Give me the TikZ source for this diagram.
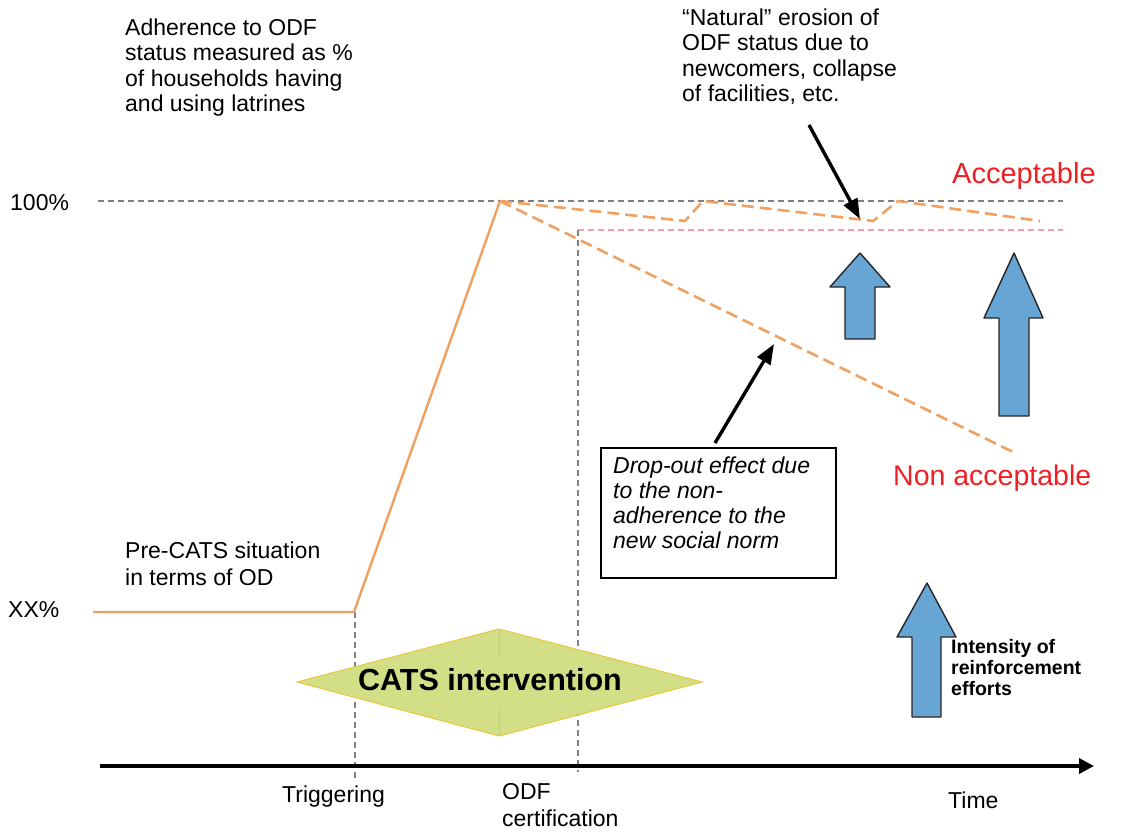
\documentclass[tikz,border=0pt]{standalone}
\usepackage{fontspec}
\setmainfont{Liberation Sans}
\usetikzlibrary{arrows.meta}
\definecolor{orng}{HTML}{F0A060}
\definecolor{gryd}{HTML}{808080}
\definecolor{redd}{HTML}{F4A0A0}
\definecolor{redt}{HTML}{EE2024}
\definecolor{blu}{HTML}{67A5D5}
\definecolor{dfill}{HTML}{D3DF86}
\definecolor{dline}{HTML}{EBC53A}
\tikzset{
  txt/.style={inner sep=0pt, align=left, font=\fontsize{23}{25.5}\selectfont},
  graydash/.style={gryd, line width=2.8pt, dash pattern=on 6pt off 4pt},
  orngdash/.style={orng, line width=2.6pt, dash pattern=on 12pt off 6pt},
  reddash/.style={redd, line width=2.6pt, dash pattern=on 6pt off 4pt},
  bluearrow/.style={fill=blu, draw=black!85, line width=1.4pt, line join=round},
  pointer/.style={black, line width=3.4pt, -{Triangle[length=20pt,width=15pt]}},
}
\begin{document}
\begin{tikzpicture}[x=1pt,y=-1pt]
\useasboundingbox (0,0) rectangle (1126,831);
% reference lines
\coordinate (g0) at (98,201);
\coordinate (g1) at (1063,201);
\draw[graydash] (g0) -- (g1);
\coordinate (r0) at (578,230);
\coordinate (r1) at (1063,230);
\draw[reddash] (r0) -- (r1);
\coordinate (v1t) at (355,612);
\coordinate (v1b) at (355,778);
\coordinate (v2t) at (578,230);
\coordinate (v2b) at (578,772);
\draw[graydash] (v1t) -- (v1b);
\draw[graydash] (v2t) -- (v2b);
% diamond
\coordinate (dL) at (297,682);
\coordinate (dT) at (499,629);
\coordinate (dR) at (702,682);
\coordinate (dB) at (499,736);
\filldraw[fill=dfill, draw=dline, line width=1pt] (dL) -- (dT) -- (dR) -- (dB) -- cycle;
\coordinate (dm1) at (499,658);
\coordinate (dm2) at (499,707);
\draw[dline, line width=1pt] (dT) -- (dm1);
\draw[dline, line width=1pt] (dm2) -- (dB);
\node[inner sep=0pt, anchor=base, font=\fontsize{30.5}{32}\selectfont\bfseries] (cats) at (490,690) {CATS intervention};
% time axis
\coordinate (t0) at (100,766);
\coordinate (t1) at (1094,766);
\draw[line width=3.5pt, -{Triangle[length=15pt,width=15pt]}] (t0) -- (t1);
% orange curves
\coordinate (o0) at (93,612);
\coordinate (o1) at (354,612);
\coordinate (o2) at (500,201);
\draw[orng, line width=2.4pt, line join=round] (o0) -- (o1) -- (o2);
\coordinate (e1) at (685,221);
\coordinate (e2) at (703,201);
\coordinate (e3) at (873,221);
\coordinate (e4) at (898,201);
\coordinate (e5) at (1040,221);
\draw[orngdash] (o2) -- (e1) -- (e2) -- (e3) -- (e4) -- (e5);
\coordinate (dd) at (1013,452);
\draw[orngdash] (o2) -- (dd);
% blue arrows
\draw[bluearrow] (860,253) -- (890,287) -- (875,287) -- (875,339) -- (845,339) -- (845,287) -- (830,287) -- cycle;
\draw[bluearrow] (1014,253) -- (1043,318) -- (1029,318) -- (1029,416) -- (999,416) -- (999,318) -- (984,318) -- cycle;
\draw[bluearrow] (927,583) -- (956,637) -- (941,637) -- (941,717) -- (912,717) -- (912,637) -- (897,637) -- cycle;
% texts
\node[txt, anchor=north west] (adh) at (125,18.5) {Adherence to ODF\\status measured as \%\\of households having\\and using latrines};
\node[txt, anchor=north west] (nat) at (682,8.5) {“Natural” erosion of\\ODF status due to\\newcomers, collapse\\of facilities, etc.};
\node[txt, anchor=base west] (p100) at (10,210) {100\%};
\node[txt, anchor=base west] (pxx) at (8,617) {XX\%};
\node[txt, anchor=north west, font=\fontsize{23}{27}\selectfont] (pre) at (125,541.5) {Pre-CATS situation\\in terms of OD};
\node[txt, anchor=base west] (trig) at (282,802) {Triggering};
\node[txt, anchor=north west, font=\fontsize{23}{27}\selectfont] (odf) at (502,783) {ODF\\certification};
\node[txt, anchor=base west] (time) at (948,808) {Time};
\node[txt, anchor=base west, text=redt, font=\fontsize{29}{31}\selectfont] (acc) at (952,183) {Acceptable};
\node[txt, anchor=base west, text=redt, font=\fontsize{28.5}{31}\selectfont] (nacc) at (893,485) {Non acceptable};
\node[txt, anchor=north west, font=\fontsize{19.5}{21}\selectfont\bfseries] (int) at (951,639) {Intensity of\\reinforcement\\efforts};
% drop-out box
\node[draw=black, line width=1.8pt, minimum width=235pt, minimum height=130pt, inner sep=0pt, anchor=north west] (box) at (600,447) {};
\node[txt, anchor=north west, font=\fontsize{23}{25}\selectfont\itshape] (drop) at (613,456.5) {Drop-out effect due\\to the non-\\adherence to the\\new social norm};
% pointers
\coordinate (a1s) at (809,125);
\coordinate (a1e) at (860,219);
\draw[pointer] (a1s) -- (a1e);
\coordinate (a2s) at (715,443);
\coordinate (a2e) at (774,344);
\draw[pointer] (a2s) -- (a2e);
\end{tikzpicture}
\end{document}
